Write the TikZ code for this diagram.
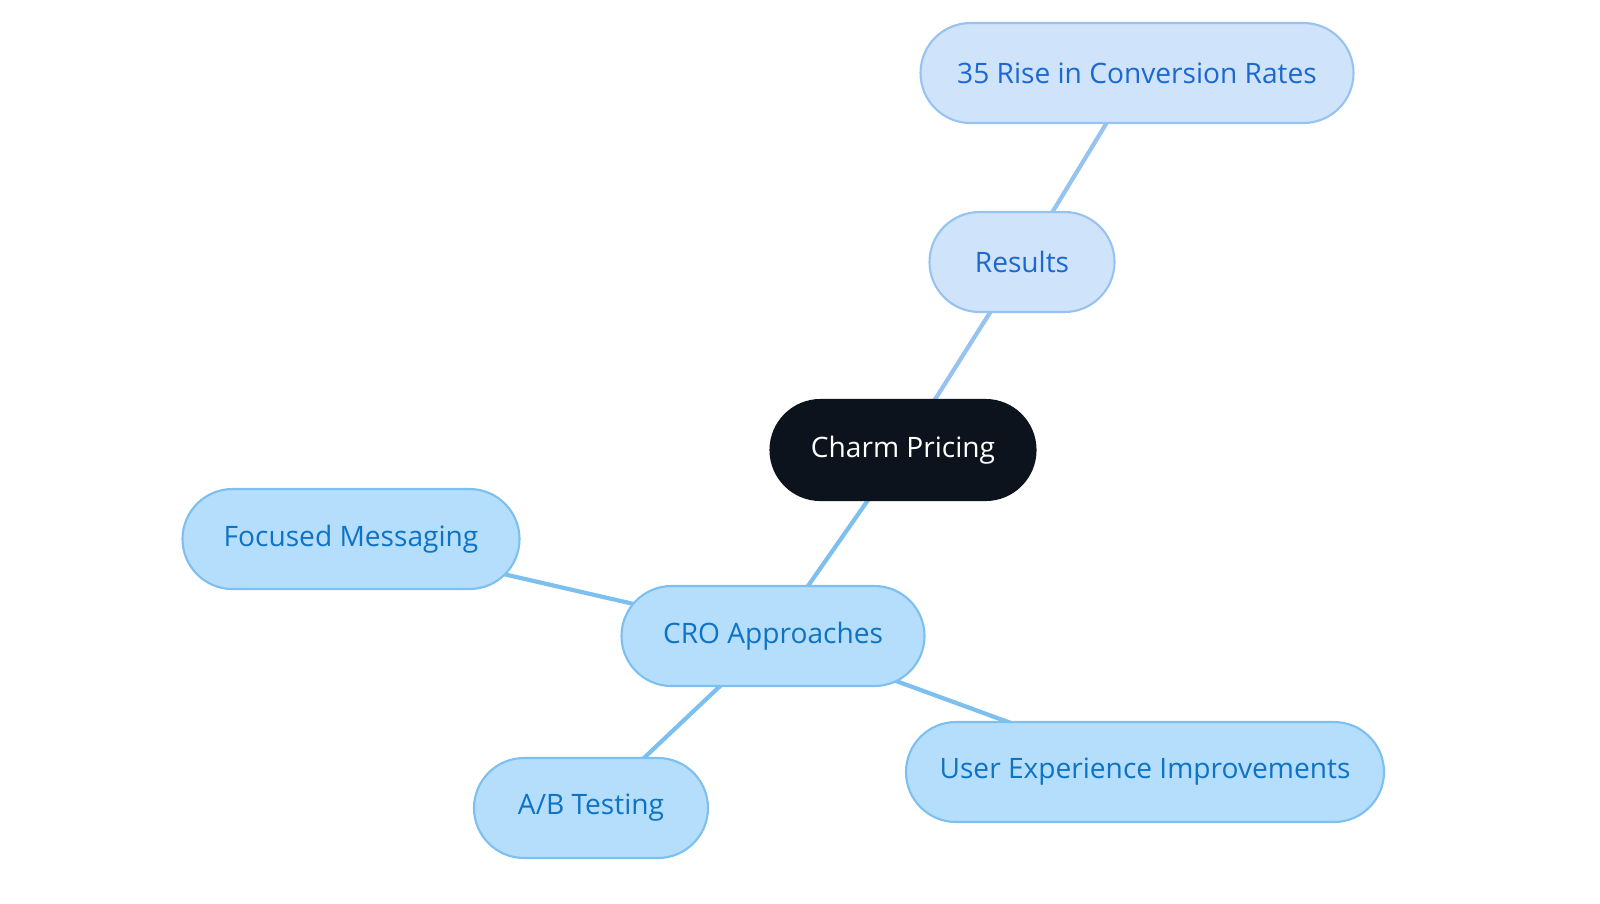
\documentclass[tikz,border=0pt]{standalone}
\usepackage{fontspec}
\setmainfont{Open Sans}
\usetikzlibrary{backgrounds}
\definecolor{rootfill}{RGB}{13,19,28}
\definecolor{resfill}{RGB}{207,227,250}
\definecolor{resline}{RGB}{150,195,240}
\definecolor{restext}{RGB}{26,104,208}
\definecolor{crofill}{RGB}{180,222,252}
\definecolor{croline}{RGB}{125,192,240}
\definecolor{crotext}{RGB}{14,115,196}
\tikzset{
  pill/.style={rounded corners=0.5cm, minimum height=1cm, inner sep=0pt, font=\fontsize{8}{10}\selectfont, line width=0.6pt},
  rootpill/.style={pill, fill=rootfill, draw=rootfill, text=white},
  respill/.style={pill, fill=resfill, draw=resline, text=restext},
  cropill/.style={pill, fill=crofill, draw=croline, text=crotext},
  resedge/.style={draw=resline, line width=1.2pt},
  croedge/.style={draw=croline, line width=1.2pt}
}
\begin{document}
\begin{tikzpicture}
\useasboundingbox (0,0) rectangle (16,-9.03);
% nodes
\node[rootpill, minimum width=2.65cm] (charm) at (9.03,-4.5) {Charm Pricing};
\node[respill, minimum width=1.85cm] (results) at (10.22,-2.62) {Results};
\node[respill, minimum width=4.33cm] (rise) at (11.37,-0.73) {35 Rise in Conversion Rates};
\node[cropill, minimum width=3.03cm] (cro) at (7.73,-6.36) {CRO Approaches};
\node[cropill, minimum width=3.37cm] (focus) at (3.51,-5.39) {Focused Messaging};
\node[cropill, minimum width=2.34cm] (ab) at (5.91,-8.08) {A/B Testing};
\node[cropill, minimum width=4.78cm] (ux) at (11.45,-7.72) {User Experience Improvements};
% connectors
\begin{scope}[on background layer]
\path[resedge] (charm.center) -- (results.center);
\path[resedge] (results.center) -- (rise.center);
\path[croedge] (charm.center) -- (cro.center);
\path[croedge] (cro.center) -- (focus.center);
\path[croedge] (cro.center) -- (ab.center);
\path[croedge] (cro.center) -- (ux.center);
\end{scope}
\end{tikzpicture}
\end{document}
